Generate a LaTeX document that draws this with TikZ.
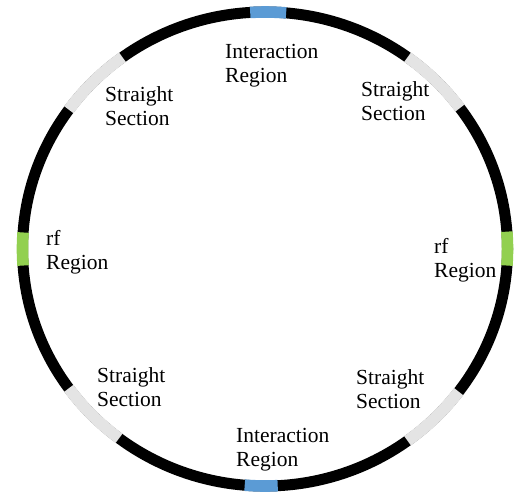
\documentclass[tikz,border=0pt]{standalone}
\usepackage{fontspec}
\setmainfont{Liberation Serif}
\definecolor{irblue}{HTML}{5B9BD5}
\definecolor{rfgreen}{HTML}{92D050}
\definecolor{ssgray}{HTML}{E4E4E4}
\newcommand{\ringseg}[3]{\draw[seg,draw=#1] (C) ++(#2:242.5 and 237) arc[start angle=#2,end angle=#3,x radius=242.5,y radius=237];}
\begin{document}
\begin{tikzpicture}[x=1pt,y=-1pt,
  ring/.style={line width=11pt,draw=black},
  seg/.style={line width=11.6pt},
  lbl/.style={anchor=base west,align=left,inner sep=0pt,font=\fontsize{21.5}{24}\selectfont}]
\useasboundingbox[fill=white] (0,0) rectangle (516,496);
\coordinate (C) at (265,249);
\draw[ring] (C) ellipse[x radius=242.5, y radius=237];
% interaction regions
\ringseg{irblue}{266.5}{275}
\ringseg{irblue}{87}{94.8}
% rf regions
\ringseg{rfgreen}{176}{184}
\ringseg{rfgreen}{-4.2}{4}
% straight sections
\ringseg{ssgray}{216}{234}
\ringseg{ssgray}{306}{323.5}
\ringseg{ssgray}{127}{144}
\ringseg{ssgray}{37}{54}
% labels (anchor = baseline of the last line)
\node[lbl] (irtop) at (225,82) {Interaction\\Region};
\node[lbl] (irbot) at (236,466) {Interaction\\Region};
\node[lbl] (rfl) at (46,269) {rf\\Region};
\node[lbl] (rfr) at (434,277) {rf\\Region};
\node[lbl] (ssul) at (105,125) {Straight\\Section};
\node[lbl] (ssur) at (361,120) {Straight\\Section};
\node[lbl] (ssll) at (97,406) {Straight\\Section};
\node[lbl] (sslr) at (356,408) {Straight\\Section};
\end{tikzpicture}
\end{document}
